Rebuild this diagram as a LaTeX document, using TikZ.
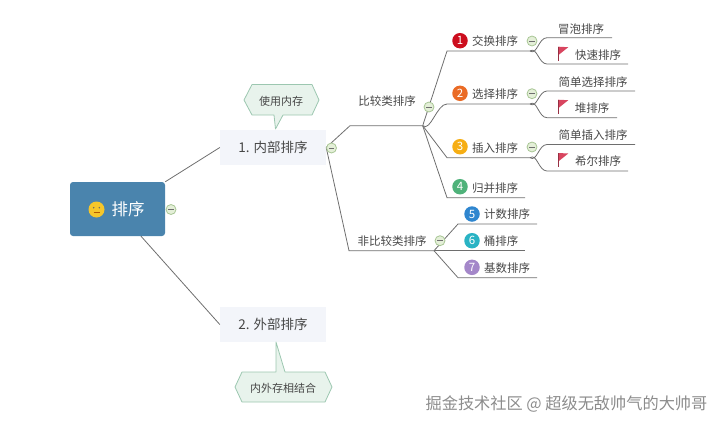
\documentclass[tikz,border=0pt]{standalone}
\usepackage{fontspec}
\setmainfont{Noto Sans CJK SC}
\definecolor{rootblue}{HTML}{4A84AD}
\definecolor{topicbg}{HTML}{F3F5FA}
\definecolor{calloutbg}{HTML}{E8F3EC}
\definecolor{calloutline}{HTML}{9CC7B0}
\definecolor{branchline}{HTML}{6E6E6E}
\definecolor{labelgray}{HTML}{474747}
\definecolor{flagred}{HTML}{D8455F}
\definecolor{foldbg}{HTML}{E4EFD8}
\definecolor{foldline}{HTML}{A8C695}
\definecolor{badgeone}{HTML}{CC0E1E}
\definecolor{badgetwo}{HTML}{EA6B25}
\definecolor{badgethree}{HTML}{F6AE14}
\definecolor{badgefour}{HTML}{4FB27A}
\definecolor{badgefive}{HTML}{2F86CF}
\definecolor{badgesix}{HTML}{29B3C4}
\definecolor{badgeseven}{HTML}{A487C9}
\definecolor{facegold}{HTML}{F5C62A}
\tikzset{
  rootbox/.style={fill=rootblue, draw=none, rounded corners=3pt, minimum width=95pt, minimum height=54pt, inner sep=0pt, text=white, font=\fontsize{16.5}{18}\selectfont},
  topicbox/.style={fill=topicbg, draw=none, minimum width=106pt, minimum height=35pt, inner sep=0pt, text=labelgray, font=\fontsize{13.5}{16}\selectfont},
  callout/.style={fill=calloutbg, draw=calloutline, line width=0.8pt, line join=round},
  calloutlabel/.style={inner sep=0pt, text=labelgray, font=\fontsize{11}{12}\selectfont},
  sortlabel/.style={inner sep=0pt, text=labelgray, font=\fontsize{11.5}{12}\selectfont},
  branch/.style={draw=branchline, line width=0.8pt},
  badge/.style={circle, minimum size=15.5pt, inner sep=0pt, text=white, font=\fontsize{11.5}{12}\selectfont},
  foldicon/.style={circle, fill=foldbg, draw=foldline, line width=0.8pt, minimum size=10pt, inner sep=0pt,
    path picture={\draw[branchline, line width=0.5pt] ([xshift=-2.6pt]path picture bounding box.center) -- ([xshift=2.6pt]path picture bounding box.center);}},
  flagicon/.pic={
    \fill[flagred] (0,0) -- (10,0.5) -- (0,8.5) -- cycle;
    \draw[flagred!70!black, line width=0.8pt] (0,0) -- (0,14);
  }
}
\begin{document}
\begin{tikzpicture}[x=1pt,y=-1pt]
\useasboundingbox (0,0) rectangle (720,426);
% main boxes
\node[rootbox] (root) at (117.5,209) {\hspace*{21pt}排序};
\node[topicbox] (inner) at (273,147.5) {1. 内部排序};
\node[topicbox] (outer) at (273,324.5) {2. 外部排序};
\node[circle, fill=facegold, minimum size=16pt, inner sep=0pt] (face) at (96.5,209.5) {};
\fill[black!60] (93.7,207.7) circle (0.8pt);
\fill[black!60] (99.3,207.7) circle (0.8pt);
\draw[orange!70!black, line width=0.6pt] (93.5,212.7) -- (99.5,212.7);
% callouts
\draw[callout] (244,100) -- (252,84.5) -- (312,84.5) -- (319,100) -- (312,115) -- (283,115) -- (275.5,129) -- (274,115) -- (252,115) -- cycle;
\node[calloutlabel] (memuse) at (281,101) {使用内存};
\draw[callout] (235,387) -- (242,372) -- (276,372) -- (276,342) -- (285,372) -- (325,372) -- (332,387) -- (325,402) -- (242,402) -- cycle;
\node[calloutlabel] (memmix) at (283,388) {内外存相结合};
% second level
\coordinate (cmpL) at (350,125.7);
\coordinate (cmpR) at (422.7,125.7);
\coordinate (ncmpL) at (349,250.7);
\coordinate (ncmpR) at (434,250.7);
\node[sortlabel] (cmp) at (387,100.7) {比较类排序};
\node[sortlabel] (ncmp) at (392,241.5) {非比较类排序};
\draw[branch] (root.north east) -- (inner.west);
\draw[branch] ([xshift=23.5pt]root.south) -- (outer.west);
\draw[branch] (inner.east) -- (cmpL) -- (cmpR);
\draw[branch] (inner.east) -- (ncmpL) -- (ncmpR);
% third level
\coordinate (swapL) at (447,51);
\coordinate (swapR) at (530,51);
\coordinate (selL) at (447,104);
\coordinate (selR) at (530,104);
\coordinate (insL) at (447,157.7);
\coordinate (insR) at (530,157.7);
\coordinate (mrgL) at (447,197.7);
\coordinate (mrgR) at (525,197.7);
\draw[branch] (cmpR) -- (swapL) -- (swapR);
\draw[branch] (cmpR) to[out=-40,in=180,looseness=0.8] (selL) -- (selR);
\draw[branch] (cmpR) -- (insL) -- (insR);
\draw[branch] (cmpR) -- (mrgL) -- (mrgR);
\node[badge, fill=badgeone] (one) at (460,40.7) {1};
\node[badge, fill=badgetwo] (two) at (460,93.3) {2};
\node[badge, fill=badgethree] (three) at (460,146.7) {3};
\node[badge, fill=badgefour] (four) at (460,186.7) {4};
\node[sortlabel] (swap) at (495,41) {交换排序};
\node[sortlabel] (sel) at (495,94.5) {选择排序};
\node[sortlabel] (ins) at (495,148) {插入排序};
\node[sortlabel] (mrg) at (495,188) {归并排序};
% leaves
\coordinate (bubL) at (547,37.7);
\coordinate (bubR) at (612,37.7);
\coordinate (fastL) at (547,64);
\coordinate (fastR) at (628,64);
\coordinate (ssL) at (547,91);
\coordinate (ssR) at (635,91);
\coordinate (heapL) at (547,117.7);
\coordinate (heapR) at (617,117.7);
\coordinate (siL) at (547,144.5);
\coordinate (siR) at (635,144.5);
\coordinate (shellL) at (547,171);
\coordinate (shellR) at (628,171);
\draw[branch] (swapR) to[out=-35,in=180] (bubL) -- (bubR);
\draw[branch] (swapR) to[out=35,in=180] (fastL) -- (fastR);
\draw[branch] (selR) to[out=-35,in=180] (ssL) -- (ssR);
\draw[branch] (selR) to[out=35,in=180] (heapL) -- (heapR);
\draw[branch] (insR) to[out=-35,in=180] (siL) -- (siR);
\draw[branch] (insR) to[out=35,in=180] (shellL) -- (shellR);
\node[sortlabel] (bubble) at (581,29) {冒泡排序};
\node[sortlabel] (fast) at (598,55) {快速排序};
\node[sortlabel] (ssort) at (593,82) {简单选择排序};
\node[sortlabel] (heap) at (592,108) {堆排序};
\node[sortlabel] (isort) at (593,135.5) {简单插入排序};
\node[sortlabel] (shell) at (598,161) {希尔排序};
\pic at (558.3,46.7) {flagicon};
\pic at (558.3,99.7) {flagicon};
\pic at (558.3,153) {flagicon};
% non comparison sorts
\coordinate (cntL) at (458,224);
\coordinate (cntR) at (537,224);
\coordinate (bktR) at (525,250.7);
\coordinate (radL) at (458,277.7);
\coordinate (radR) at (537,277.7);
\draw[branch] (ncmpR) -- (cntL) -- (cntR);
\draw[branch] (ncmpR) -- (bktR);
\draw[branch] (ncmpR) -- (radL) -- (radR);
\node[badge, fill=badgefive] (five) at (472,214) {5};
\node[badge, fill=badgesix] (six) at (472,240.7) {6};
\node[badge, fill=badgeseven] (seven) at (472,267.3) {7};
\node[sortlabel] (cnt) at (507,214.5) {计数排序};
\node[sortlabel] (bkt) at (501,241) {桶排序};
\node[sortlabel] (rad) at (507,268) {基数排序};
% fold icons
\node[foldicon] (foldroot) at (171,209.5) {};
\node[foldicon] (foldinner) at (331.5,148) {};
\node[foldicon] (foldcmp) at (429,107) {};
\node[foldicon] (foldncmp) at (440,240.7) {};
\node[foldicon] (foldswap) at (532,41) {};
\node[foldicon] (foldsel) at (532,93.7) {};
\node[foldicon] (foldins) at (532,147) {};
% watermark
\node[inner sep=0pt, text=black!45, font=\fontsize{16.2}{18}\selectfont] (mark) at (566.5,404) {掘金技术社区 @ 超级无敌帅气的大帅哥};
\end{tikzpicture}
\end{document}
